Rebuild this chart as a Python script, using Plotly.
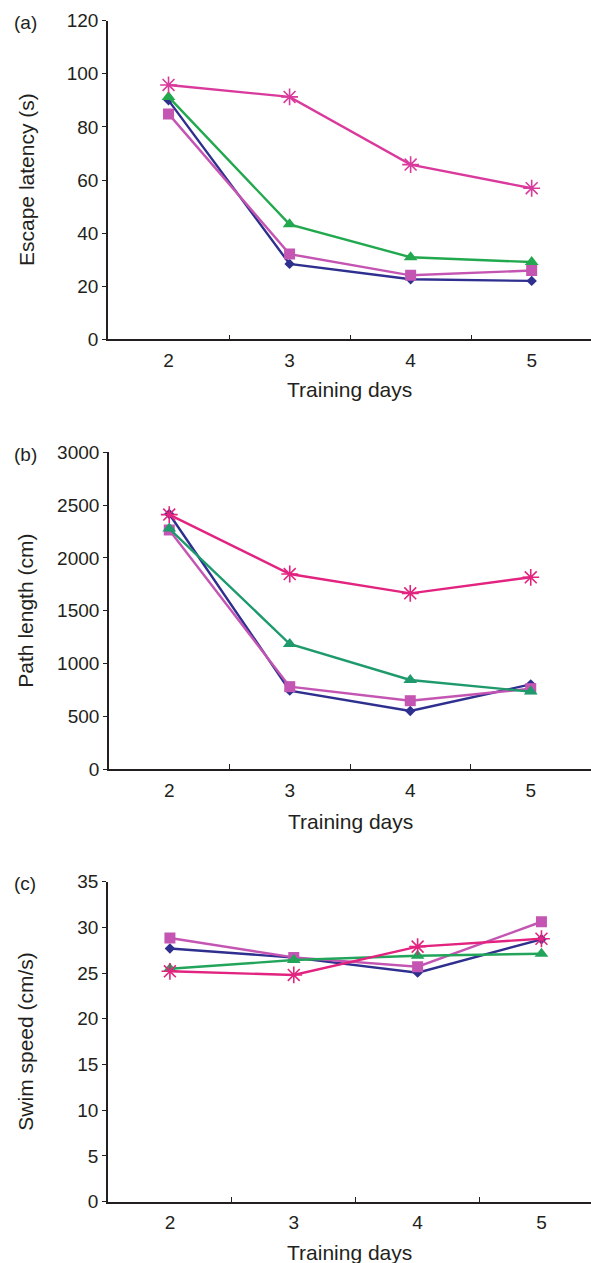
import plotly.graph_objects as go

days = ["2", "3", "4", "5"]

# (a) Escape latency (s)
lat_diamond = [90.0, 28.4, 22.6, 22.0]
lat_square = [84.9, 32.1, 24.1, 25.9]
lat_triangle = [91.3, 43.3, 30.9, 29.1]
lat_star = [95.8, 91.3, 65.8, 56.9]

# (b) Path length (cm)
path_diamond = [2416, 742, 549, 802]
path_square = [2264, 780, 647, 761]
path_triangle = [2277, 1184, 843, 733]
path_star = [2410, 1847, 1664, 1816]

# (c) Swim speed (cm/s)
speed_diamond = [27.7, 26.7, 25.05, 28.7]
speed_square = [28.84, 26.72, 25.7, 30.62]
speed_triangle = [25.48, 26.43, 26.9, 27.12]
speed_star = [25.2, 24.8, 27.9, 28.76]

y_ticks_a = [0, 20, 40, 60, 80, 100, 120]
y_ticks_b = [0, 500, 1000, 1500, 2000, 2500, 3000]
y_ticks_c = [0, 5, 10, 15, 20, 25, 30, 35]

W, H = 591, 1263
FONT = "Liberation Sans, Arial, sans-serif"
AX = "#231F20"

BLUE = "#2E2F8E"
SQ = "#C455B2"

panels = [
    dict(data=(lat_diamond, lat_square, lat_triangle, lat_star), ticks=y_ticks_a, yr=[0, 120],
         top=20.7, bot=339.3, left=108, xr=[-0.5, 3.49], green="#22A84E", star="#D93A9C",
         ytitle="Escape latency (s)", label="(a)", xt=390, lab_y=22.5),
    dict(data=(path_diamond, path_square, path_triangle, path_star), ticks=y_ticks_b, yr=[0, 3000],
         top=452.3, bot=769.0, left=109, xr=[-0.5, 3.5], green="#1E9A6C", star="#E2237F",
         ytitle="Path length (cm)", label="(b)", xt=821, lab_y=454),
    dict(data=(speed_diamond, speed_square, speed_triangle, speed_star), ticks=y_ticks_c, yr=[0, 35],
         top=881.7, bot=1201.7, left=108, xr=[-0.5, 3.4], green="#22A55A", star="#E2237F",
         ytitle="Swim speed (cm/s)", label="(c)", xt=1252, lab_y=883),
]

fig = go.Figure()
annotations = []
layout = {}
for i, p in enumerate(panels):
    n = "" if i == 0 else str(i + 1)
    xa, ya = "x" + n, "y" + n
    d, s, t, st = p["data"]
    fig.add_trace(go.Scatter(x=days, y=d, xaxis=xa, yaxis=ya, mode="lines+markers",
                             line=dict(color=BLUE, width=2.4),
                             marker=dict(symbol="diamond", size=8, color=BLUE)))
    fig.add_trace(go.Scatter(x=days, y=s, xaxis=xa, yaxis=ya, mode="lines+markers",
                             line=dict(color=SQ, width=2.4),
                             marker=dict(symbol="square", size=11, color=SQ)))
    fig.add_trace(go.Scatter(x=days, y=t, xaxis=xa, yaxis=ya, mode="lines+markers",
                             line=dict(color=p["green"], width=2.4),
                             marker=dict(symbol="triangle-up", size=12, color=p["green"])))
    fig.add_trace(go.Scatter(x=days, y=st, xaxis=xa, yaxis=ya, mode="lines+markers",
                             line=dict(color=p["star"], width=2.4),
                             marker=dict(symbol="asterisk-open", size=14,
                                         line=dict(color=p["star"], width=1.6))))
    ydom = [1 - p["bot"] / H, 1 - p["top"] / H]
    xdom = [p["left"] / W, 1]
    layout["xaxis" + n] = dict(
        domain=xdom, anchor=ya, type="category", range=p["xr"],
        showline=True, linecolor=AX, linewidth=1.6, showgrid=False, zeroline=False,
        ticks="inside", tickson="boundaries", ticklen=5, tickwidth=1.3, tickcolor=AX,
        tickfont=dict(family=FONT, size=19, color=AX), ticklabelstandoff=3,
    )
    layout["yaxis" + n] = dict(
        domain=ydom, anchor=xa, range=p["yr"], tickmode="array", tickvals=p["ticks"],
        showline=True, linecolor=AX, linewidth=1.6, showgrid=False, zeroline=False,
        ticks="outside", ticklen=4, tickwidth=1.3, tickcolor=AX,
        tickfont=dict(family=FONT, size=19, color=AX),
    )
    annotations.append(dict(text=p["ytitle"], xref="paper", yref="paper", x=26 / W,
                            y=(ydom[0] + ydom[1]) / 2, textangle=-90, showarrow=False,
                            xanchor="center", yanchor="middle",
                            font=dict(family=FONT, size=21, color=AX)))
    annotations.append(dict(text="Training days", xref="paper", yref="paper",
                            x=(xdom[0] + 1) / 2, y=1 - p["xt"] / H, showarrow=False,
                            xanchor="center", yanchor="middle",
                            font=dict(family=FONT, size=21, color=AX)))
    annotations.append(dict(text=p["label"], xref="paper", yref="paper", x=12 / W,
                            y=1 - p["lab_y"] / H, showarrow=False, xanchor="left",
                            yanchor="middle", font=dict(family=FONT, size=19, color=AX)))

fig.update_layout(**layout)
fig.update_layout(width=W, height=H,
                  margin=dict(l=0, r=0, t=0, b=0, pad=0, autoexpand=False),
                  paper_bgcolor="white", plot_bgcolor="white", showlegend=False,
                  annotations=annotations)
fig.write_html("out.html", config={"displayModeBar": False},
               post_script="document.body.style.margin='0';document.body.style.overflow='hidden';")
